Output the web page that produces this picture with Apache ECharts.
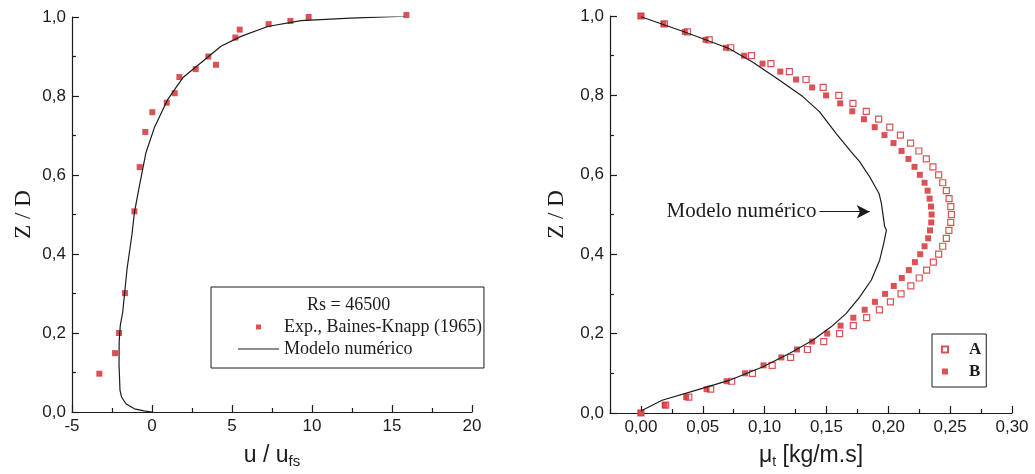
<!DOCTYPE html>
<html>
<head>
<meta charset="utf-8">
<script src="https://cdn.jsdelivr.net/npm/echarts@6/dist/echarts.min.js"></script>
<style>
html, body { margin: 0; padding: 0; background: #fff; }
#chart { width: 1035px; height: 474px; }
</style>
</head>
<body>
<div id="chart"></div>
<script>
// left panel: velocity profile
var expU = [15.9, 9.79, 8.65, 7.29, 5.48, 5.21, 4.0, 3.52, 2.73, 1.71, 1.42, 0.92, 0.02, -0.42, -0.77, -1.10, -1.69, -2.06, -2.31, -3.29];
var expZ = [1.005, 1.0, 0.99, 0.982, 0.968, 0.948, 0.879, 0.90, 0.868, 0.848, 0.807, 0.783, 0.759, 0.709, 0.62, 0.508, 0.301, 0.20, 0.149, 0.097];

var modU = [0, -0.5, -1.1, -1.63, -1.9, -2.0, -2.06, -2.05, -1.98, -1.83, -1.56, -1.25, -1.10, -0.79, -0.375, 0.15, 0.98, 1.92, 3.06, 4.31, 5.56, 7.23, 9.31, 12.4, 15.8];
var modZ = [0, 0.003, 0.008, 0.021, 0.038, 0.055, 0.12, 0.18, 0.22, 0.2525, 0.362, 0.45, 0.505, 0.572, 0.657, 0.72, 0.791, 0.846, 0.884, 0.926, 0.951, 0.976, 0.991, 0.997, 1.002];

// right panel: turbulent viscosity
var zLevels = [0, 0.02, 0.04, 0.06, 0.08, 0.10, 0.12, 0.14, 0.16, 0.18, 0.20, 0.22, 0.24, 0.26, 0.28, 0.30, 0.32, 0.34, 0.36, 0.38, 0.40,
  0.42, 0.44, 0.46, 0.48, 0.50, 0.52, 0.54, 0.56, 0.58, 0.60, 0.62, 0.64, 0.66, 0.68, 0.70, 0.72, 0.74, 0.76, 0.78, 0.80,
  0.82, 0.84, 0.86, 0.88, 0.90, 0.92, 0.94, 0.96, 0.98, 1.00];
var muA = [0, 0.020, 0.0387, 0.0564, 0.0734, 0.0902, 0.1061, 0.121, 0.1346, 0.1478, 0.1606, 0.1717, 0.1825, 0.1928, 0.2017, 0.2103, 0.2182, 0.225, 0.231, 0.2364, 0.2407,
  0.244, 0.2469, 0.249, 0.2505, 0.251, 0.2505, 0.2491, 0.2469, 0.244, 0.2407, 0.2361, 0.2307, 0.2247, 0.218, 0.2098, 0.2012, 0.1922, 0.1822, 0.1714, 0.16,
  0.1473, 0.1335, 0.12, 0.1051, 0.0893, 0.0726, 0.0552, 0.0377, 0.019, 0];
var muB = [0, 0.0192, 0.0366, 0.0531, 0.0693, 0.0842, 0.0991, 0.1135, 0.1262, 0.1384, 0.1506, 0.1614, 0.1717, 0.1809, 0.1892, 0.1974, 0.2044, 0.2109, 0.2166, 0.2215, 0.2258,
  0.2293, 0.2322, 0.2337, 0.2347, 0.235, 0.2345, 0.2334, 0.2318, 0.2293, 0.2255, 0.2212, 0.2163, 0.2107, 0.2042, 0.1969, 0.189, 0.1803, 0.1709, 0.1611, 0.1497,
  0.1384, 0.1254, 0.1127, 0.0983, 0.0834, 0.0688, 0.0523, 0.0355, 0.0182, 0];

var modMu = [0, 0.0171, 0.0442, 0.0712, 0.0983, 0.12, 0.1389, 0.1538, 0.166, 0.1768, 0.1863, 0.193, 0.1963, 0.1985, 0.1971, 0.1944, 0.1925, 0.1849, 0.1768, 0.17, 0.1579, 0.1443, 0.1308, 0.1118, 0.0902, 0.0712, 0.036, 0];
var modZr = [0.005, 0.032, 0.057, 0.082, 0.116, 0.15, 0.183, 0.217, 0.251, 0.292, 0.335, 0.385, 0.427, 0.461, 0.469, 0.528, 0.553, 0.595, 0.633, 0.658, 0.704, 0.759, 0.797, 0.839, 0.884, 0.918, 0.959, 0.998];

var muTicks = [0, 0.05, 0.10, 0.15, 0.20, 0.25, 0.30];
var muMinorTicks = [-0.025, 0.025, 0.075, 0.125, 0.175, 0.225, 0.275];

var noteText = 'Modelo numérico';
var arrowFrom = [0.1443, 0.507];
var arrowTo = [0.1850, 0.507];

var RED = '#d0282c';
var INK = '#1c1c1c';
var SANS = 'Liberation Sans';
var SERIF = 'Liberation Serif';
// legend icons, kept to their aspect
var SQUARE = 'path://M0,0h1v1h-1z';
var DASH = 'path://M0,0h40v1.2h-40z';

function zip(xs, ys) {
    return xs.map(function (x, i) { return [x, ys[i]]; });
}
function comma(d) {
    return function (v) { return v.toFixed(d).replace('.', ','); };
}

// fresh objects for every axis
function axisLine() {
    return { show: true, onZero: false, lineStyle: { color: INK, width: 1.2 } };
}
function ticks(len, values) {
    var t = { show: true, inside: true, length: len, lineStyle: { color: INK, width: 1.2 } };
    if (values) t.customValues = values;
    return t;
}
function minor() {
    return { show: true, splitNumber: 2, length: 4, lineStyle: { color: INK, width: 1.2 } };
}
function labels(fmt, values) {
    var l = { fontFamily: SANS, fontSize: 17, color: INK, margin: 6 };
    if (fmt) l.formatter = fmt;
    if (values) l.customValues = values;
    return l;
}

function zAxis(grid, gap) {
    return {
        gridIndex: grid, type: 'value', min: 0, max: 1, interval: 0.2,
        name: 'Z / D', nameLocation: 'middle', nameGap: gap,
        nameTextStyle: { fontFamily: SERIF, fontSize: 23, color: INK },
        axisLine: axisLine(), axisTick: ticks(7), minorTick: minor(),
        splitLine: { show: false },
        axisLabel: labels(comma(1))
    };
}

var chart = echarts.init(document.getElementById('chart'));

var option = {
    animation: false,
    grid: [
        { left: 72, top: 17, width: 400, height: 396 },
        { left: 610, top: 16, width: 402, height: 397 }
    ],
    xAxis: [
        {
            gridIndex: 0, type: 'value', min: -5, max: 20, interval: 5,
            name: 'u / u{s|fs}', nameLocation: 'middle', nameGap: 30,
            nameTextStyle: {
                fontFamily: SANS, fontSize: 23, color: INK,
                rich: { s: { fontFamily: SANS, fontSize: 15, color: INK, padding: [12, 0, 0, 0] } }
            },
            axisLine: axisLine(), axisTick: ticks(7), minorTick: minor(),
            splitLine: { show: false },
            axisLabel: labels()
        },
        {
            gridIndex: 1, type: 'value', min: -0.025, max: 0.3, position: 'bottom',
            name: 'μ{s|t} [kg/m.s]', nameLocation: 'middle', nameGap: 30,
            nameTextStyle: {
                fontFamily: SANS, fontSize: 23, color: INK,
                rich: { s: { fontFamily: SANS, fontSize: 14, color: INK, padding: [12, 0, 0, 0] } }
            },
            axisLine: axisLine(),
            axisTick: ticks(7, muTicks),
            splitLine: { show: false },
            axisLabel: labels(comma(2), muTicks)
        },
        {
            gridIndex: 1, type: 'value', min: -0.025, max: 0.3, position: 'bottom',
            axisLine: { show: false, onZero: false },
            axisTick: ticks(4, muMinorTicks),
            axisLabel: { show: false },
            splitLine: { show: false }
        }
    ],
    yAxis: [zAxis(0, 37), zAxis(1, 42)],
    legend: [
        {
            data: [
                { name: 'Rs = 46500', icon: 'none', textStyle: { padding: [0, 0, 0, 23] } },
                { name: 'Exp., Baines-Knapp (1965)', icon: SQUARE },
                { name: 'Modelo numérico', icon: DASH }
            ],
            left: 211, top: 287, orient: 'vertical', align: 'left',
            itemWidth: 41, itemHeight: 5, itemGap: 4,
            symbolKeepAspect: true,
            padding: [9, 2, 10, 27],
            borderColor: INK, borderWidth: 1,
            selectedMode: false,
            textStyle: { fontFamily: SERIF, fontSize: 18, color: INK }
        },
        {
            data: [{ name: 'A', icon: SQUARE }, { name: 'B', icon: SQUARE }],
            left: 932, top: 334, orient: 'vertical', align: 'left',
            itemWidth: 38, itemHeight: 6, itemGap: 5,
            symbolKeepAspect: true,
            padding: [7, 5, 7, 9],
            borderColor: INK, borderWidth: 1,
            selectedMode: false,
            textStyle: { fontFamily: SERIF, fontSize: 17, fontWeight: 'bold', color: INK }
        }
    ],
    series: [
        {
            name: 'Rs = 46500', type: 'line', xAxisIndex: 0, yAxisIndex: 0, data: [], symbol: 'none'
        },
        {
            name: 'Exp., Baines-Knapp (1965)', type: 'scatter', xAxisIndex: 0, yAxisIndex: 0,
            symbol: 'rect', symbolSize: 6, clip: false,
            itemStyle: { color: RED },
            data: zip(expU, expZ)
        },
        {
            name: 'Modelo numérico', type: 'line', xAxisIndex: 0, yAxisIndex: 0,
            symbol: 'none',
            itemStyle: { color: INK },
            lineStyle: { color: INK, width: 1.2 },
            data: zip(modU, modZ)
        },
        {
            name: 'A', type: 'scatter', xAxisIndex: 1, yAxisIndex: 1,
            symbol: 'rect', symbolSize: 6, clip: false,
            itemStyle: { color: '#fff', borderColor: RED, borderWidth: 1.2 },
            data: zip(muA, zLevels)
        },
        {
            name: 'B', type: 'scatter', xAxisIndex: 1, yAxisIndex: 1,
            symbol: 'rect', symbolSize: 6, clip: false,
            itemStyle: { color: RED },
            data: zip(muB, zLevels)
        },
        {
            name: 'Modelo numérico (μt)', type: 'line', xAxisIndex: 1, yAxisIndex: 1,
            symbol: 'none',
            itemStyle: { color: INK },
            lineStyle: { color: INK, width: 1.2 },
            data: zip(modMu, modZr),
            markLine: {
                silent: true,
                symbol: ['none', 'arrow'],
                symbolSize: [10, 13],
                lineStyle: { color: INK, type: 'solid', width: 1.2 },
                label: {
                    show: true, position: 'start', distance: 3,
                    formatter: noteText,
                    fontFamily: SERIF, fontSize: 21, color: INK
                },
                data: [[{ coord: arrowFrom }, { coord: arrowTo }]]
            }
        }
    ]
};

chart.setOption(option);
</script>
</body>
</html>
